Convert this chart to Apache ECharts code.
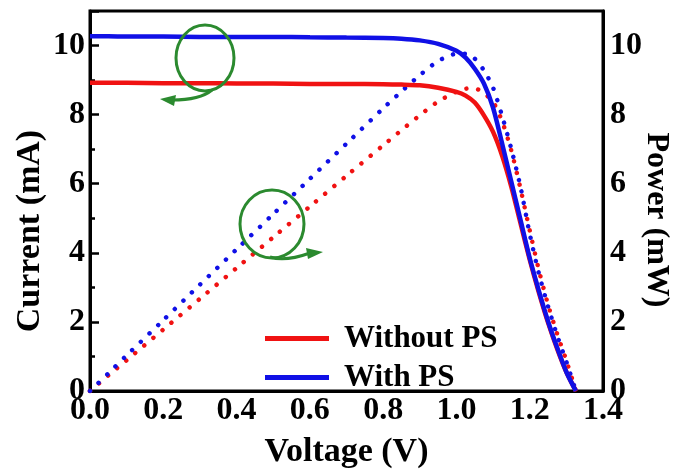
<!DOCTYPE html>
<html>
<head>
<meta charset="utf-8">
<script src="https://cdn.jsdelivr.net/npm/echarts@6/dist/echarts.min.js"></script>
<style>
  html, body { margin: 0; padding: 0; background: #fff; }
  #chart { width: 687px; height: 471px; }
</style>
</head>
<body>
<div id="chart"></div>
<script>
// voltage grid (V)
var volt = [0, 0.05, 0.1, 0.2, 0.3, 0.4, 0.5, 0.6, 0.7, 0.8, 0.85, 0.9, 0.95, 1.0, 1.025, 1.05, 1.075,
            1.1, 1.125, 1.15, 1.175, 1.2, 1.225, 1.25, 1.275, 1.3, 1.326];
// current (mA)
var curWithout = [8.92, 8.92, 8.92, 8.91, 8.91, 8.90, 8.90, 8.89, 8.89, 8.88, 8.87, 8.85, 8.78, 8.66, 8.55, 8.35, 7.98,
                  7.5, 6.8, 5.9, 4.85, 3.8, 2.85, 1.98, 1.22, 0.55, 0];
var curWith = [10.27, 10.27, 10.26, 10.26, 10.25, 10.25, 10.25, 10.24, 10.23, 10.22, 10.2, 10.15, 10.05, 9.85, 9.65, 9.33, 8.9,
               8.2, 7.15, 6.05, 4.95, 3.85, 2.9, 2.02, 1.25, 0.55, 0];
// power (mW)
var powWithout = [0, 0.45, 0.89, 1.78, 2.67, 3.56, 4.45, 5.34, 6.23, 7.11, 7.55, 7.98, 8.38, 8.66, 8.75, 8.76, 8.62,
                  8.37, 7.8, 6.95, 5.85, 4.65, 3.5, 2.5, 1.65, 0.88, 0];
var powWith = [0, 0.51, 1.03, 2.05, 3.08, 4.1, 5.12, 6.14, 7.16, 8.18, 8.67, 9.14, 9.55, 9.76, 9.76, 9.62, 9.28,
               8.78, 7.95, 7.0, 5.9, 4.55, 3.4, 2.45, 1.6, 0.85, 0];
var names = ['Without PS', 'With PS'];
var yTicks = [0, 2, 4, 6, 8, 10];

var RED = '#f01212', BLUE = '#1010e6', GREEN = '#2b8a2f';
var FONT = '"Liberation Serif", "Times New Roman", serif';

function pairs(ys){
	var out = [];
	for(var i=0;i<volt.length;i++){
		out.push([volt[i], ys[i]]);
	}
	return out;
}

var chart = echarts.init(document.getElementById('chart'), null, {renderer: 'canvas'});

var yLabel = {
	fontFamily: FONT, fontWeight: 'bold', fontSize: 32, color: '#000',
	showMaxLabel: false,
	formatter: function(v){ return yTicks.indexOf(v) >= 0 ? String(v) : ''; }
};

var option = {
	animation: false,
	backgroundColor: '#fff',
	grid: {left: 90, right: 84, top: 11, bottom: 80, outerBoundsMode: 'none',
		show: true, borderColor: '#000', borderWidth: 3},
	legend: {
		data: names,
		orient: 'vertical',
		left: 260, top: 318,
		itemWidth: 64, itemHeight: 5, itemGap: 8,
		icon: 'rect',
		textStyle: {fontFamily: FONT, fontWeight: 'bold', fontSize: 31, color: '#000', padding: [0, 0, 0, 10], lineHeight: 30}
	},
	xAxis: {
		type: 'value', min: 0, max: 1.4, interval: 0.2,
		name: 'Voltage (V)', nameLocation: 'middle', nameGap: 44,
		nameTextStyle: {fontFamily: FONT, fontWeight: 'bold', fontSize: 34, color: '#000'},
		axisLine: {lineStyle: {color: '#000', width: 3}},
		axisTick: {show: false},
		splitLine: {show: false},
		axisLabel: {fontFamily: FONT, fontWeight: 'bold', fontSize: 32, color: '#000', margin: 4,
			formatter: function(v){ return v.toFixed(1); }}
	},
	yAxis: [{
		type: 'value', min: 0, max: 11, interval: 2, position: 'left',
		axisLine: {show: true, lineStyle: {color: '#000', width: 3}},
		axisTick: {show: true, inside: true, length: 9, lineStyle: {color: '#000', width: 2.5}},
		minorTick: {show: true, splitNumber: 2, length: 5, lineStyle: {color: '#000', width: 2.5}},
		splitLine: {show: false},
		axisLabel: Object.assign({margin: 5}, yLabel)
	}, {
		type: 'value', min: 0, max: 11, interval: 2, position: 'right',
		axisLine: {show: true, lineStyle: {color: '#000', width: 3}},
		axisTick: {show: false},
		splitLine: {show: false},
		axisLabel: Object.assign({margin: 7}, yLabel)
	}],
	series: [{
		name: 'Power without PS', type: 'line', yAxisIndex: 1, data: pairs(powWithout),
		showSymbol: false, smooth: 0.25,
		lineStyle: {color: RED, width: 4.5, type: [0.01, 11.8], cap: 'round'}
	}, {
		name: 'Power with PS', type: 'line', yAxisIndex: 1, data: pairs(powWith),
		showSymbol: false, smooth: 0.25,
		lineStyle: {color: BLUE, width: 4.5, type: [0.01, 11.8], cap: 'round'}
	}, {
		name: names[0], type: 'line', yAxisIndex: 0, data: pairs(curWithout),
		showSymbol: false, smooth: 0.25,
		itemStyle: {color: RED},
		lineStyle: {color: RED, width: 4.5}
	}, {
		name: names[1], type: 'line', yAxisIndex: 0, data: pairs(curWith),
		showSymbol: false, smooth: 0.25,
		itemStyle: {color: BLUE},
		lineStyle: {color: BLUE, width: 4.5}
	}],
	graphic: [
		// axis titles
		{type: 'text', x: 30, y: 231, rotation: Math.PI / 2,
			style: {text: 'Current (mA)', font: 'bold 34px ' + FONT, fill: '#000', align: 'center', verticalAlign: 'middle'}},
		{type: 'text', x: 656, y: 220, rotation: -Math.PI / 2,
			style: {text: 'Power (mW)', font: 'bold 32px ' + FONT, fill: '#000', align: 'center', verticalAlign: 'middle'}},
		// green annotation loops
		{type: 'ellipse', z: 100, shape: {cx: 205, cy: 58, rx: 29, ry: 33},
			style: {fill: 'none', stroke: GREEN, lineWidth: 3}},
		{type: 'bezierCurve', z: 100, shape: {x1: 212, y1: 90, cpx1: 200, cpy1: 100, x2: 172, y2: 100},
			style: {fill: 'none', stroke: GREEN, lineWidth: 3}},
		{type: 'polygon', z: 100, shape: {points: [[160, 99], [176, 95], [174, 106]]},
			style: {fill: GREEN}},
		{type: 'ellipse', z: 100, shape: {cx: 272, cy: 224, rx: 32, ry: 34},
			style: {fill: 'none', stroke: GREEN, lineWidth: 3}},
		{type: 'bezierCurve', z: 100, shape: {x1: 270, y1: 257, cpx1: 285, cpy1: 262, x2: 310, y2: 253},
			style: {fill: 'none', stroke: GREEN, lineWidth: 3}},
		{type: 'polygon', z: 100, shape: {points: [[323, 252], [306, 248], [308, 259]]},
			style: {fill: GREEN}}
	]
};
chart.setOption(option);
</script>
</body>
</html>
